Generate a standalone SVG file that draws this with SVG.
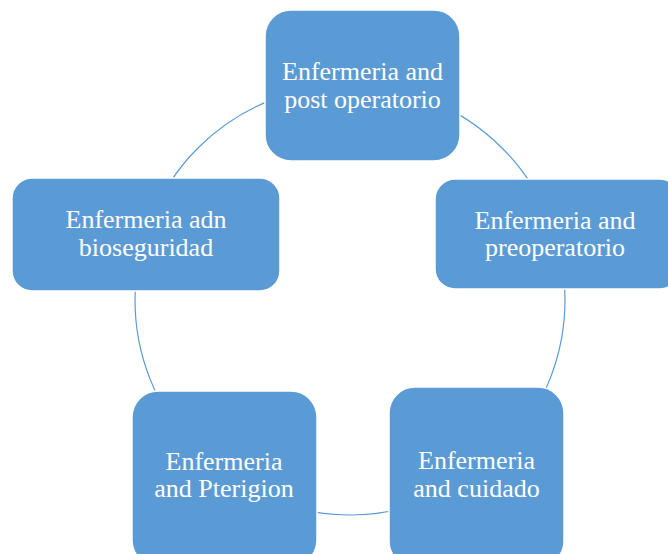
<svg xmlns="http://www.w3.org/2000/svg" width="668" height="554" viewBox="0 0 668 554">
<style>
.n{fill:#5B9BD5;stroke:#ffffff;stroke-width:1.5}
.t{fill:#ffffff;font-family:"Liberation Serif","Times New Roman",serif;font-size:26px;text-anchor:middle}
.c{fill:none;stroke:#5B9BD5;stroke-width:1.2}
</style>
<rect width="668" height="554" fill="#ffffff"/>
<g id="connectors">
<circle class="c" cx="350" cy="300" r="215"/>
</g>
<g id="node-postop">
<rect class="n" x="265" y="10" width="195" height="151" rx="26"/>
<text class="t" x="362.5" y="80">Enfermeria and</text>
<text class="t" x="362.5" y="108">post operatorio</text>
</g>
<g id="node-preop">
<rect class="n" x="435" y="179" width="245" height="110" rx="20"/>
<text class="t" x="555" y="229">Enfermeria and</text>
<text class="t" x="555" y="256">preoperatorio</text>
</g>
<g id="node-cuidado">
<rect class="n" x="389" y="387" width="175" height="180" rx="26"/>
<text class="t" x="476.5" y="469">Enfermeria</text>
<text class="t" x="476.5" y="497">and cuidado</text>
</g>
<g id="node-pterigion">
<rect class="n" x="132" y="391" width="185" height="175" rx="26"/>
<text class="t" x="224" y="470">Enfermeria</text>
<text class="t" x="224" y="497">and Pterigion</text>
</g>
<g id="node-bioseguridad">
<rect class="n" x="12" y="178" width="268" height="113" rx="20"/>
<text class="t" x="146" y="228">Enfermeria adn</text>
<text class="t" x="146" y="256">bioseguridad</text>
</g>
</svg>
